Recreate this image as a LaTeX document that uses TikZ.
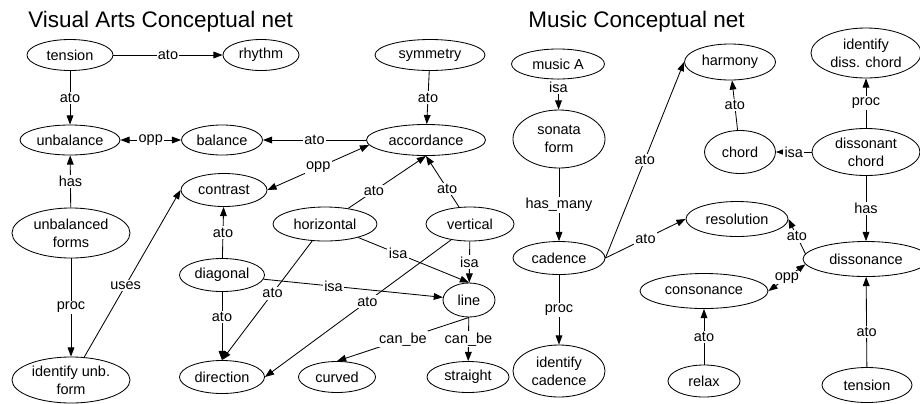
\documentclass[tikz,border=0pt]{standalone}
\usepackage{fontspec}
\setmainfont{Liberation Sans}
\usetikzlibrary{shapes.geometric,arrows.meta}

\begin{document}
\begin{tikzpicture}[x=0.025cm, y=-0.025cm,
        concept/.style={ellipse, draw, line width=0.6pt, inner sep=0.5pt, align=center, font=\fontsize{10.3}{12.8}\selectfont},
        rel/.style={fill=white, inner sep=1pt, font=\fontsize{10.3}{12.8}\selectfont},
        link/.style={line width=0.6pt, -{Triangle[length=6.5pt,width=4.8pt]}},
        twoway/.style={line width=0.6pt, {Triangle[length=6.5pt,width=4.8pt]}-{Triangle[length=6.5pt,width=4.8pt]}},
        heading/.style={anchor=base west, inner sep=0pt, font=\fontsize{16}{19}\selectfont}]
        \useasboundingbox (0,0) rectangle (920,403);

        \node[heading] (vatitle) at (28,27.3) {Visual Arts Conceptual net};
        \node[heading] (mutitle) at (528,27.3) {Music Conceptual net};

        % visual arts net
        \node[concept, minimum width=2.15cm, minimum height=0.775cm] (tension) at (70,55) {tension};
        \node[concept, minimum width=1.9cm, minimum height=0.775cm] (rhythm) at (261,55) {rhythm};
        \node[concept, minimum width=2.75cm, minimum height=0.775cm] (symmetry) at (430,55) {symmetry};
        \node[concept, minimum width=2.5cm, minimum height=0.75cm] (unbalance) at (70,140) {unbalance};
        \node[concept, minimum width=2.025cm, minimum height=0.75cm] (balance) at (222,140) {balance};
        \node[concept, minimum width=2.975cm, minimum height=0.775cm] (accordance) at (426,140) {accordance};
        \node[concept, minimum width=2.15cm, minimum height=0.825cm] (contrast) at (224,190) {contrast};
        \node[concept, minimum width=2.95cm, minimum height=1.25cm] (unbforms) at (71,233) {unbalanced\\forms};
        \node[concept, minimum width=2.6cm, minimum height=0.85cm] (horizontal) at (325,224) {horizontal};
        \node[concept, minimum width=2.2cm, minimum height=0.85cm] (vertical) at (470,224) {vertical};
        \node[concept, minimum width=2.125cm, minimum height=0.825cm] (diagonal) at (222,275) {diagonal};
        \node[concept, minimum width=1.3cm, minimum height=0.85cm] (line) at (469,300) {line};
        \node[concept, minimum width=2.95cm, minimum height=1.15cm] (idunb) at (71,380) {identify unb.\\form};
        \node[concept, minimum width=2.125cm, minimum height=0.825cm] (direction) at (222,377) {direction};
        \node[concept, minimum width=1.925cm, minimum height=0.775cm] (curved) at (337,377) {curved};
        \node[concept, minimum width=2.05cm, minimum height=0.775cm] (straight) at (468,377) {straight};

        \draw[link] (tension) -- node[rel]{ato} (rhythm);
        \draw[link] (tension) -- node[rel]{ato} (unbalance);
        \draw[twoway] (unbalance) -- node[rel]{opp} (balance);
        \draw[link] (accordance) -- node[rel]{ato} (balance);
        \draw[link] (symmetry) -- node[rel]{ato} (accordance);
        \draw[twoway] (contrast.east) -- node[rel]{opp} (accordance.185);
        \draw[link] (unbforms) -- node[rel]{has} (unbalance);
        \draw[link] (unbforms) -- node[rel]{proc} (idunb);
        \draw[link] (idunb) -- node[rel, pos=0.43]{uses} (contrast.west);
        \draw[link] (diagonal) -- node[rel]{ato} (contrast);
        \draw[link] (diagonal) -- node[rel, pos=0.37]{ato} (direction);
        \draw[link] (horizontal) -- node[rel, pos=0.33]{ato} (accordance.south);
        \draw[link] (vertical) -- node[rel, pos=0.36]{ato} (accordance.south);
        \draw[link] (diagonal) -- node[rel, pos=0.39]{isa} (line);
        \draw[link] (horizontal) -- node[rel, pos=0.44]{ato} (direction.north);
        \draw[link] (horizontal) -- node[rel, pos=0.36]{isa} (line.north);
        \draw[link] (vertical) -- node[rel]{isa} (line);
        \draw[link] (vertical.220) -- node[rel, pos=0.45]{ato} (direction.east);
        \draw[link] (line.south) -- node[rel]{can\_be} (curved.north);
        \draw[link] (line) -- node[rel]{can\_be} (straight);

        % music net
        \node[concept, minimum width=2.325cm, minimum height=0.75cm] (musicA) at (558,64) {music A};
        \node[concept, minimum width=2.3cm, minimum height=1.45cm] (sonata) at (559,139) {sonata\\form};
        \node[concept, minimum width=2.3cm, minimum height=0.825cm] (cadence) at (559,258) {cadence};
        \node[concept, minimum width=2.3cm, minimum height=1.3cm] (idcad) at (559,371) {identify\\cadence};
        \node[concept, minimum width=2.275cm, minimum height=0.9cm] (harmony) at (730,62) {harmony};
        \node[concept, minimum width=1.775cm, minimum height=1.075cm] (chord) at (740,152) {chord};
        \node[concept, minimum width=2.75cm, minimum height=1.25cm] (iddiss) at (866,53) {identify\\diss. chord};
        \node[concept, minimum width=2.7cm, minimum height=1.175cm] (dchord) at (866,152) {dissonant\\chord};
        \node[concept, minimum width=2.55cm, minimum height=0.875cm] (resolution) at (737,219) {resolution};
        \node[concept, minimum width=3.15cm, minimum height=0.875cm] (dissonance) at (866,259) {dissonance};
        \node[concept, minimum width=3.2cm, minimum height=0.875cm] (consonance) at (704,291) {consonance};
        \node[concept, minimum width=1.8cm, minimum height=0.8cm] (relax) at (704,381) {relax};
        \node[concept, minimum width=2.25cm, minimum height=0.875cm] (tension2) at (867,385) {tension};

        \draw[link] (musicA) -- node[rel, pos=0.25]{isa} (sonata);
        \draw[link] (sonata) -- node[rel]{has\_many} (cadence);
        \draw[link] (cadence) -- node[rel]{proc} (idcad);
        \draw[link] (cadence.east) -- node[rel]{ato} (harmony.west);
        \draw[link] (cadence.east) -- node[rel]{ato} (resolution.west);
        \draw[link] (chord) -- node[rel]{ato} (harmony);
        \draw[link] (dchord) -- node[rel]{isa} (chord);
        \draw[link] (dchord) -- node[rel]{proc} (iddiss);
        \draw[link] (dchord) -- node[rel]{has} (dissonance);
        \draw[link] (tension2) -- node[rel, pos=0.39]{ato} (dissonance);
        \draw[link] (relax) -- node[rel]{ato} (consonance);
        \draw[link] (dissonance.175) -- node[rel]{ato} (resolution.east);
        \draw[twoway] (consonance.east) -- node[rel]{opp} (dissonance.185);
\end{tikzpicture}
\end{document}
